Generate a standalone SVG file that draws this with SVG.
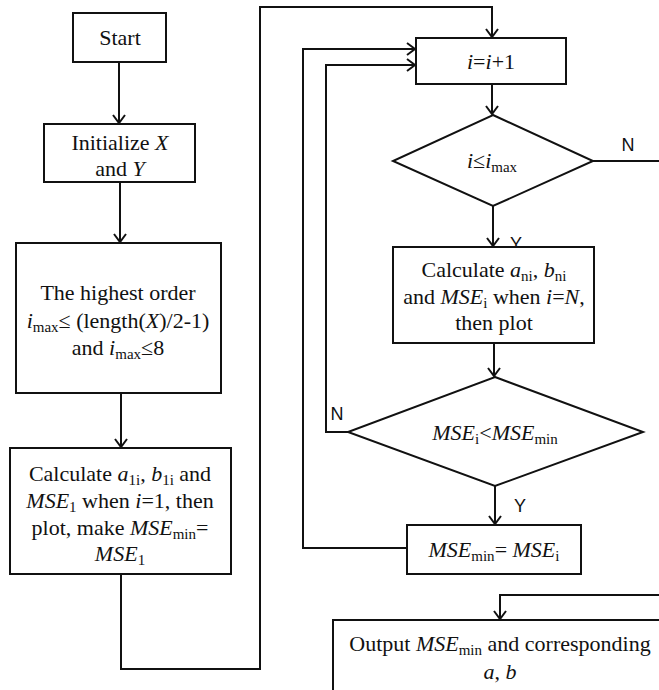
<svg xmlns="http://www.w3.org/2000/svg" width="659" height="690" viewBox="0 0 659 690">
<defs>
<marker id="arr" markerWidth="14" markerHeight="14" refX="12" refY="7" orient="auto" markerUnits="userSpaceOnUse">
<path d="M4,1 L12,7 L4,13" fill="none" stroke="#111" stroke-width="2"/>
</marker>
<style>
.box{fill:#fff;stroke:#111;stroke-width:2}
.ln{fill:none;stroke:#111;stroke-width:2}
.t{font-family:"Liberation Serif","Times New Roman",serif;font-size:22px;fill:#111;text-anchor:middle}
.s{font-size:15px}
.lb{font-family:"Liberation Sans",Arial,sans-serif;font-size:18px;fill:#111;text-anchor:middle}
</style>
</defs>
<rect width="659" height="690" fill="#fff"/>
<g id="connectors">
<path class="ln" d="M119,62 V123" marker-end="url(#arr)"/>
<path class="ln" d="M120,182 V242" marker-end="url(#arr)"/>
<path class="ln" d="M121,393 V447" marker-end="url(#arr)"/>
<path class="ln" d="M121,574 V669 H260 V7 H492 V37" marker-end="url(#arr)"/>
<path class="ln" d="M407,548 H303 V49 H415" marker-end="url(#arr)"/>
<path class="ln" d="M348,432 H326 V65 H415" marker-end="url(#arr)"/>
<path class="ln" d="M492,84 V114" marker-end="url(#arr)"/>
<path class="ln" d="M593,161 H660"/>
<path class="ln" d="M493,206 V246" marker-end="url(#arr)"/>
<path class="ln" d="M494,343 V376" marker-end="url(#arr)"/>
<path class="ln" d="M495,486 V524" marker-end="url(#arr)"/>
<path class="ln" d="M660,595 H500 V619" marker-end="url(#arr)"/>
<text class="lb" x="628" y="151">N</text>
<text class="lb" x="516" y="250">Y</text>
<text class="lb" x="337" y="420">N</text>
<text class="lb" x="520" y="512">Y</text>
</g>
<g id="start">
<rect class="box" x="73" y="13" width="93" height="49"/>
<text class="t" x="120" y="45">Start</text>
</g>
<g id="init">
<rect class="box" x="44" y="124" width="151" height="58"/>
<text class="t" x="120" y="150">Initialize <tspan font-style="italic">X</tspan></text>
<text class="t" x="120" y="176">and <tspan font-style="italic">Y</tspan></text>
</g>
<g id="order">
<rect class="box" x="16" y="243" width="205" height="150"/>
<text class="t" x="118" y="300">The highest order</text>
<text class="t" x="118" y="328"><tspan font-style="italic">i</tspan><tspan class="s" dy="4">max</tspan><tspan dy="-4">≤ (length(</tspan><tspan font-style="italic">X</tspan>)/2-1)</text>
<text class="t" x="118" y="355">and <tspan font-style="italic">i</tspan><tspan class="s" dy="4">max</tspan><tspan dy="-4">≤8</tspan></text>
</g>
<g id="calc1">
<rect class="box" x="10" y="448" width="221" height="126"/>
<text class="t" x="120" y="481">Calculate <tspan font-style="italic">a</tspan><tspan class="s" dy="4">1i</tspan><tspan dy="-4">, </tspan><tspan font-style="italic">b</tspan><tspan class="s" dy="4">1i</tspan><tspan dy="-4"> and</tspan></text>
<text class="t" x="120" y="508"><tspan font-style="italic">MSE</tspan><tspan class="s" dy="4">1</tspan><tspan dy="-4"> when </tspan><tspan font-style="italic">i</tspan>=1, then</text>
<text class="t" x="120" y="535">plot, make <tspan font-style="italic">MSE</tspan><tspan class="s" dy="4">min</tspan><tspan dy="-4">=</tspan></text>
<text class="t" x="120" y="561"><tspan font-style="italic">MSE</tspan><tspan class="s" dy="4">1</tspan></text>
</g>
<g id="inc">
<rect class="box" x="416" y="38" width="150" height="46"/>
<text class="t" x="491" y="69"><tspan font-style="italic">i</tspan>=<tspan font-style="italic">i</tspan>+1</text>
</g>
<g id="cond1">
<polygon class="box" points="493,115 593,161 493,206 393,161"/>
<text class="t" x="492" y="168"><tspan font-style="italic">i</tspan>≤<tspan font-style="italic">i</tspan><tspan class="s" dy="4">max</tspan></text>
</g>
<g id="calc2">
<rect class="box" x="393" y="247" width="201" height="96"/>
<text class="t" x="494" y="277">Calculate <tspan font-style="italic">a</tspan><tspan class="s" dy="4">ni</tspan><tspan dy="-4">, </tspan><tspan font-style="italic">b</tspan><tspan class="s" dy="4">ni</tspan></text>
<text class="t" x="494" y="304">and <tspan font-style="italic">MSE</tspan><tspan class="s" dy="4">i</tspan><tspan dy="-4"> when </tspan><tspan font-style="italic">i</tspan>=<tspan font-style="italic">N</tspan>,</text>
<text class="t" x="494" y="330">then plot</text>
</g>
<g id="cond2">
<polygon class="box" points="495,377 643,432 495,486 348,432"/>
<text class="t" x="495" y="440"><tspan font-style="italic">MSE</tspan><tspan class="s" dy="4">i</tspan><tspan dy="-4">&lt;</tspan><tspan font-style="italic">MSE</tspan><tspan class="s" dy="4">min</tspan></text>
</g>
<g id="update">
<rect class="box" x="407" y="525" width="174" height="49"/>
<text class="t" x="494" y="557"><tspan font-style="italic">MSE</tspan><tspan class="s" dy="4">min</tspan><tspan dy="-4">= </tspan><tspan font-style="italic">MSE</tspan><tspan class="s" dy="4">i</tspan></text>
</g>
<g id="output">
<rect class="box" x="333" y="620" width="340" height="90"/>
<text class="t" x="500" y="651">Output <tspan font-style="italic">MSE</tspan><tspan class="s" dy="4">min</tspan><tspan dy="-4"> and corresponding</tspan></text>
<text class="t" x="500" y="679"><tspan font-style="italic">a</tspan>, <tspan font-style="italic">b</tspan></text>
</g>
</svg>
